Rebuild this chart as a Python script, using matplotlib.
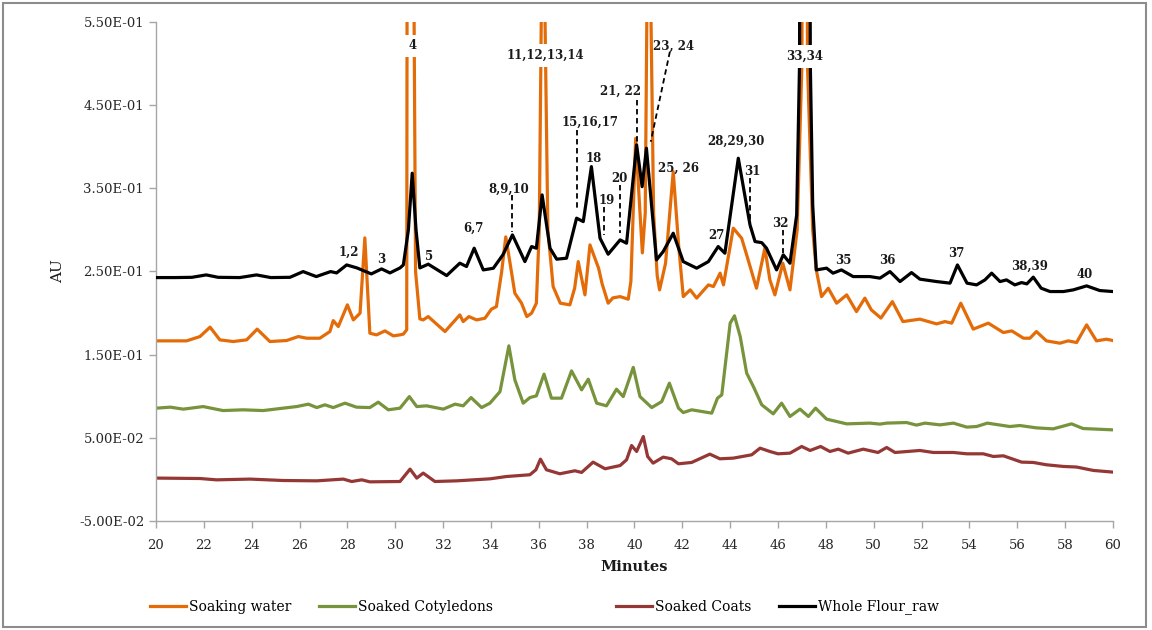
import matplotlib
matplotlib.use("Agg")
import matplotlib.pyplot as plt
from matplotlib.patches import Rectangle
from matplotlib.ticker import FuncFormatter

plt.rcParams['font.family'] = ['DejaVu Serif']

# retention time (minutes) and absorbance (AU)
# peaks running past the top of the axes are given values above 0.55
flour_t = [20.0, 20.8, 21.5, 22.1, 22.6, 23.5, 24.2, 24.8, 25.6, 26.15, 26.7, 27.3, 27.55,
           27.97, 28.4, 29.0, 29.43, 29.78, 30.2, 30.34, 30.55, 30.71, 30.87, 31.03, 31.38,
           32.15, 32.7, 32.98, 33.3, 33.68, 34.1, 34.5, 34.9, 35.42, 35.7, 35.9, 36.14,
           36.47, 36.75, 37.16, 37.58, 37.86, 38.2, 38.56, 38.9, 39.4, 39.67, 40.09, 40.32,
           40.5, 40.92, 41.2, 41.62, 42.04, 42.6, 43.09, 43.5, 43.78, 44.34, 44.83, 45.04,
           45.32, 45.52, 45.94, 46.22, 46.5, 46.78, 46.9, 46.95, 47.12, 47.3, 47.35, 47.45,
           47.6, 48.03, 48.3, 48.65, 49.14, 49.84, 50.26, 50.68, 51.1, 51.58, 51.93, 52.63,
           53.19, 53.5, 53.9, 54.3, 54.65, 54.93, 55.28, 55.55, 55.9, 56.18, 56.4, 56.67,
           57.0, 57.37, 57.93, 58.34, 58.9, 59.45, 60.0]
flour_au = [0.2427, 0.2427, 0.2430, 0.2459, 0.2430, 0.2427, 0.2459, 0.2427, 0.2430, 0.2499,
            0.2439, 0.2499, 0.2483, 0.2579, 0.2543, 0.2471, 0.2531, 0.2483, 0.2543, 0.2579,
            0.300, 0.3682, 0.300, 0.2543, 0.2588, 0.2451, 0.2600, 0.2560, 0.2780, 0.2519,
            0.2539, 0.2700, 0.2940, 0.2619, 0.2800, 0.2780, 0.3421, 0.2780, 0.2648, 0.2660,
            0.3141, 0.3100, 0.3761, 0.2900, 0.2708, 0.2880, 0.2840, 0.4022, 0.3520, 0.3982,
            0.2640, 0.2739, 0.2960, 0.2619, 0.2540, 0.2619, 0.2800, 0.2720, 0.3862, 0.3060,
            0.2860, 0.2847, 0.2780, 0.2519, 0.2700, 0.2600, 0.3180, 0.500, 1.200, 1.400,
            1.200, 0.500, 0.3300, 0.2519, 0.2540, 0.2480, 0.2519, 0.2439, 0.2439, 0.2420,
            0.2499, 0.2379, 0.2487, 0.2408, 0.2379, 0.2360, 0.2579, 0.2360, 0.2339, 0.2399,
            0.2480, 0.2379, 0.2399, 0.2339, 0.2367, 0.2351, 0.2432, 0.2299, 0.2259, 0.2259,
            0.2279, 0.2327, 0.2271, 0.2259]

water_t = [20.03, 21.28, 21.84, 22.26, 22.67, 23.23, 23.79, 24.23, 24.76, 25.46, 25.95, 26.3,
           26.85, 27.27, 27.41, 27.62, 28.0, 28.25, 28.53, 28.73, 28.94, 29.22, 29.57, 29.92,
           30.2, 30.34, 30.48, 30.5, 30.63, 30.76, 30.85, 31.03, 31.17, 31.38, 32.08, 32.7,
           32.84, 33.08, 33.4, 33.75, 34.02, 34.23, 34.45, 34.62, 34.8, 35.0, 35.28, 35.5,
           35.7, 35.9, 36.02, 36.12, 36.18, 36.24, 36.38, 36.6, 36.9, 37.3, 37.5, 37.65, 37.93,
           38.14, 38.5, 38.65, 38.9, 39.1, 39.4, 39.74, 39.85, 40.05, 40.33, 40.45, 40.53,
           40.6, 40.67, 40.8, 40.95, 41.05, 41.3, 41.62, 41.85, 42.04, 42.33, 42.6, 43.09,
           43.3, 43.58, 43.72, 44.13, 44.48, 44.69, 45.1, 45.45, 45.66, 45.87, 46.2, 46.5,
           46.8, 47.0, 47.03, 47.12, 47.2, 47.23, 47.45, 47.6, 47.82, 48.1, 48.45, 48.87,
           49.28, 49.63, 49.9, 50.3, 50.78, 51.22, 51.93, 52.63, 52.98, 53.26, 53.64, 54.16,
           54.79, 55.42, 55.77, 56.26, 56.53, 56.8, 57.22, 57.78, 58.13, 58.48, 58.9, 59.31,
           59.73, 60.0]
water_au = [0.1666, 0.1666, 0.1718, 0.1831, 0.1678, 0.1658, 0.1678, 0.1807, 0.1658, 0.1670,
            0.1718, 0.1698, 0.1698, 0.1778, 0.1910, 0.1838, 0.2099, 0.1918, 0.1999, 0.2904,
            0.1758, 0.1738, 0.1786, 0.1726, 0.1738, 0.1747, 0.1800, 0.700, 1.200, 0.700,
            0.2500, 0.1930, 0.1918, 0.1958, 0.1778, 0.1978, 0.1898, 0.1958, 0.1918, 0.1938,
            0.2047, 0.2078, 0.2500, 0.2916, 0.2600, 0.2239, 0.2119, 0.1958, 0.1999, 0.2119,
            0.3000, 0.600, 1.100, 0.600, 0.3000, 0.2319, 0.2119, 0.2099, 0.2300, 0.2619,
            0.2219, 0.2820, 0.2540, 0.2350, 0.2119, 0.2183, 0.2198, 0.2167, 0.2379, 0.4100,
            0.2724, 0.3200, 0.600, 1.200, 0.600, 0.3200, 0.2450, 0.2279, 0.2600, 0.3700,
            0.2800, 0.2198, 0.2279, 0.2180, 0.2339, 0.2319, 0.2480, 0.2339, 0.3021, 0.2900,
            0.2700, 0.2299, 0.2780, 0.2400, 0.2219, 0.2600, 0.2279, 0.3000, 0.500, 1.200,
            1.400, 1.200, 0.500, 0.3000, 0.2519, 0.2198, 0.2299, 0.2119, 0.2219, 0.2018,
            0.2180, 0.2039, 0.1940, 0.2138, 0.1898, 0.1927, 0.1870, 0.1898, 0.1879, 0.2119,
            0.1807, 0.1879, 0.1766, 0.1786, 0.1698, 0.1698, 0.1778, 0.1666, 0.1638, 0.1666,
            0.1646, 0.1858, 0.1666, 0.1686, 0.1670]

cotyledon_t = [20.03, 20.6, 21.14, 21.97, 22.8, 23.64, 24.48, 25.32, 25.88, 26.37, 26.72, 27.06,
               27.41, 27.9, 28.38, 28.94, 29.29, 29.71, 30.2, 30.59, 30.9, 31.31, 32.01, 32.5,
               32.84, 33.17, 33.61, 33.96, 34.38, 34.75, 35.0, 35.35, 35.63, 35.9, 36.22, 36.53,
               36.95, 37.37, 37.79, 38.07, 38.42, 38.83, 39.25, 39.53, 39.95, 40.23, 40.72,
               41.14, 41.46, 41.84, 42.04, 42.39, 43.23, 43.47, 43.65, 44.0, 44.18, 44.42,
               44.69, 44.97, 45.32, 45.8, 46.15, 46.5, 46.92, 47.27, 47.57, 48.03, 48.87,
               49.84, 50.26, 50.54, 51.37, 51.79, 52.14, 52.77, 53.33, 53.89, 54.3, 54.75,
               55.69, 56.11, 56.8, 57.5, 58.27, 58.75, 60.0]
cotyledon_au = [0.0857, 0.0869, 0.0845, 0.0876, 0.0828, 0.0837, 0.0828, 0.0857, 0.0876, 0.0905,
                0.0864, 0.0897, 0.0864, 0.0917, 0.0869, 0.0864, 0.0929, 0.0837, 0.0857, 0.0996,
                0.0876, 0.0885, 0.0845, 0.0905, 0.0885, 0.0984, 0.0864, 0.0917, 0.1056, 0.1606,
                0.1197, 0.0917, 0.0984, 0.1005, 0.1266, 0.0977, 0.0977, 0.1305, 0.1077, 0.1205,
                0.0917, 0.0885, 0.1085, 0.0996, 0.1347, 0.0996, 0.0864, 0.0936, 0.1157, 0.0857,
                0.0804, 0.0837, 0.0797, 0.0977, 0.1017, 0.1879, 0.1967, 0.1718, 0.1278, 0.1117,
                0.0897, 0.0789, 0.0917, 0.0757, 0.0845, 0.0757, 0.0857, 0.0725, 0.0668, 0.0677,
                0.0665, 0.0677, 0.0684, 0.0653, 0.0677, 0.0656, 0.0677, 0.0629, 0.0636, 0.0677,
                0.0636, 0.0648, 0.0620, 0.0608, 0.0668, 0.0612, 0.0596]

coat_t = [20.03, 21.84, 22.53, 23.93, 25.32, 26.72, 27.83, 28.18, 28.6, 28.94, 30.2, 30.62,
          30.9, 31.17, 31.66, 32.57, 33.96, 34.65, 35.63, 35.88, 36.07, 36.32, 36.88, 37.51,
          37.79, 38.27, 38.77, 39.4, 39.67, 39.88, 40.09, 40.37, 40.55, 40.78, 41.2, 41.55,
          41.84, 42.39, 43.15, 43.57, 44.13, 44.9, 45.25, 45.66, 46.0, 46.5, 46.99, 47.34,
          47.78, 48.17, 48.52, 48.93, 49.56, 50.18, 50.54, 50.89, 51.93, 52.49, 53.33, 53.89,
          54.58, 55.0, 55.42, 56.18, 56.67, 57.22, 57.93, 58.48, 59.18, 60.0]
coat_au = [0.0016, 0.0011, -0.0005, 0.0004, -0.0013, -0.0017, 0.0004, -0.0025, -0.0005, -0.0029,
           -0.0025, 0.0124, 0.0016, 0.0076, -0.0025, -0.0017, 0.0007, 0.0035, 0.0056, 0.0116,
           0.0244, 0.0116, 0.0068, 0.0104, 0.0084, 0.0208, 0.0128, 0.0167, 0.0236, 0.0408,
           0.0336, 0.0516, 0.0276, 0.0196, 0.0268, 0.0248, 0.0188, 0.0204, 0.0304, 0.0248,
           0.0256, 0.0296, 0.0376, 0.0336, 0.0308, 0.0316, 0.0396, 0.0348, 0.0396, 0.0336,
           0.0364, 0.0316, 0.0364, 0.0324, 0.0384, 0.0324, 0.0348, 0.0324, 0.0324, 0.0308,
           0.0308, 0.0276, 0.0284, 0.0208, 0.0204, 0.0176, 0.0156, 0.0149, 0.0108, 0.0088]

# peak labels: text, x, y (data units), and whether it needs a white box
peak_labels = [("1,2", 28.04, 0.2727, False), ("3", 29.43, 0.2648, False),
               ("4", 30.71, 0.5212, True), ("5", 31.41, 0.2679, False),
               ("6,7", 33.29, 0.3021, False), ("8,9,10", 34.75, 0.3493, False),
               ("11,12,13,14", 36.29, 0.5095, True), ("15,16,17", 38.14, 0.4295, False),
               ("18", 38.31, 0.3862, False), ("19", 38.84, 0.3352, False),
               ("20", 39.37, 0.3621, False), ("21, 22", 39.42, 0.4662, False),
               ("23, 24", 41.62, 0.5212, False), ("25, 26", 41.83, 0.3742, False),
               ("27", 43.41, 0.2932, False), ("28,29,30", 44.23, 0.4070, False),
               ("31", 44.94, 0.3701, False), ("32", 46.11, 0.3080, False),
               ("33,34", 47.13, 0.5083, True), ("35", 48.73, 0.2631, False),
               ("36", 50.58, 0.2631, False), ("37", 53.44, 0.2720, False),
               ("38,39", 56.50, 0.2559, False), ("40", 58.83, 0.2468, False)]

# dashed leader lines: (x0, y0, x1, y1)
leaders = [(34.89, 0.3421, 34.89, 0.2980), (37.59, 0.4202, 37.59, 0.3240),
           (38.74, 0.3280, 38.74, 0.2940), (39.40, 0.3540, 39.40, 0.2964),
           (40.09, 0.4563, 40.09, 0.4046), (41.48, 0.5143, 40.68, 0.4061),
           (44.83, 0.3625, 44.83, 0.3024), (46.22, 0.3000, 46.22, 0.2724)]

fig = plt.figure(figsize=(11.52, 6.30), dpi=100)
ax = fig.add_axes([0.1354, 0.1730, 0.8307, 0.7921])

lw = 2.3
ax.plot(water_t, water_au, color='#E36C09', lw=lw, label='Soaking water', zorder=2)
ax.plot(cotyledon_t, cotyledon_au, color='#77933C', lw=lw, label='Soaked Cotyledons', zorder=2)
ax.plot(coat_t, coat_au, color='#953735', lw=lw, label='Soaked Coats', zorder=2)
ax.plot(flour_t, flour_au, color='black', lw=lw, label='Whole Flour_raw', zorder=3)

for x0, y0, x1, y1 in leaders:
    ax.plot([x0, x1], [y0, y1], color='black', lw=1.3, ls=(0, (3, 2)), zorder=4)

for txt, x, y, boxed in peak_labels:
    kw = {}
    if boxed:
        kw['bbox'] = dict(facecolor='white', edgecolor='none', pad=3.5)
    ax.text(x, y, txt, ha='center', va='center', fontsize=8.5, fontweight='bold',
            color='#1a1a1a', zorder=5, **kw)

ax.set_xlim(20, 60)
ax.set_ylim(-0.05, 0.55)
ax.set_xticks(range(20, 61, 2))
ax.set_yticks([-0.05, 0.05, 0.15, 0.25, 0.35, 0.45, 0.55])
ax.yaxis.set_major_formatter(FuncFormatter(lambda v, p: '%.2E' % v))

for side in ['top', 'right']:
    ax.spines[side].set_visible(False)
for side in ['left', 'bottom']:
    ax.spines[side].set_color('#A6A6A6')
    ax.spines[side].set_linewidth(1.0)
ax.tick_params(axis='both', colors='#A6A6A6', labelcolor='#262626', labelsize=9.5,
               length=5, width=1.0, direction='out')
ax.tick_params(axis='x', pad=8)

ax.set_xlabel('Minutes', fontsize=10.5, fontweight='bold', color='#1a1a1a', labelpad=6)
ax.set_ylabel('AU', fontsize=11, color='#1a1a1a', labelpad=10)

h, l = ax.get_legend_handles_labels()
fig.legend(h[:2], l[:2], loc='center', bbox_to_anchor=(321.5 / 1152, 1 - 607 / 630),
           ncol=2, frameon=False, fontsize=10, handlelength=2.6, handletextpad=0.2,
           columnspacing=2.0)
fig.legend(h[2:], l[2:], loc='center', bbox_to_anchor=(777.5 / 1152, 1 - 607 / 630),
           ncol=2, frameon=False, fontsize=10, handlelength=2.6, handletextpad=0.2,
           columnspacing=2.0)

fig.patches.append(Rectangle((3 / 1152, 3 / 630), 1143 / 1152, 624 / 630,
                             transform=fig.transFigure, fill=False,
                             edgecolor='#8C8C8C', lw=1.5))

fig.savefig('out.png', dpi=100)
